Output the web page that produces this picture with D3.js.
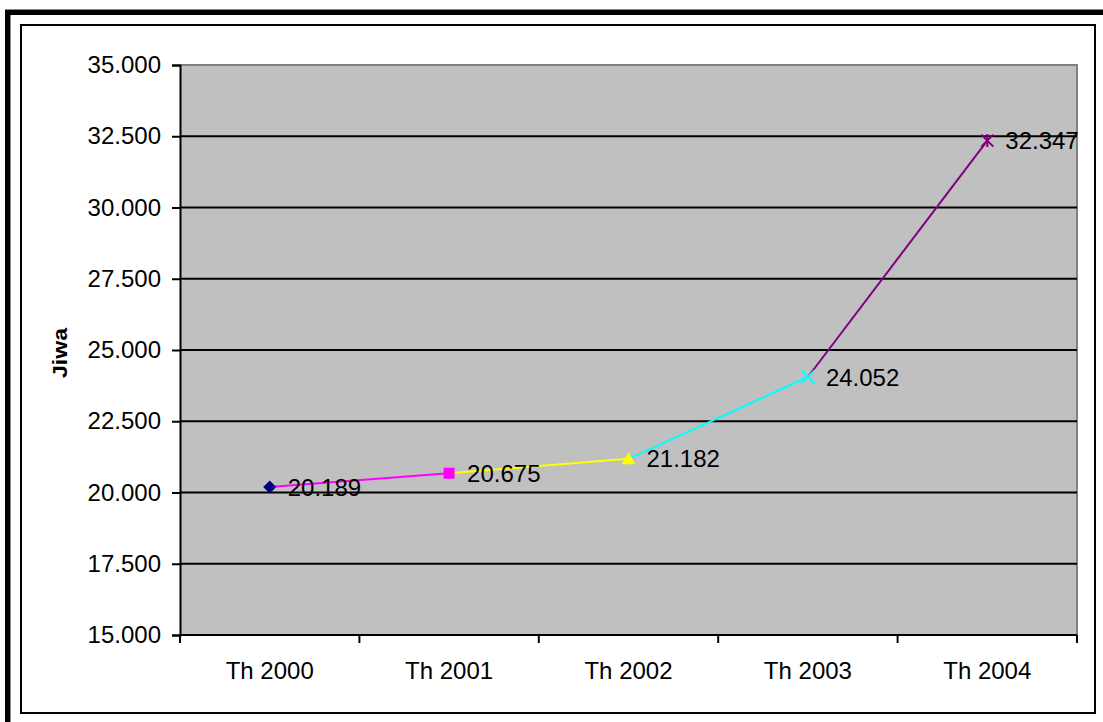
<!DOCTYPE html>
<html>
<head>
<meta charset="utf-8">
<script src="https://cdn.jsdelivr.net/npm/d3@7"></script>
<style>
  html, body { margin: 0; padding: 0; background: #ffffff; }
  svg { display: block; }
  text { font-family: Arial, "Liberation Sans", sans-serif; fill: #000; }
</style>
</head>
<body>
<svg id="chart" width="1103" height="722"></svg>
<script>
// Population (Jiwa) per year
const categories = ["Th 2000", "Th 2001", "Th 2002", "Th 2003", "Th 2004"];
const values = [20189, 20675, 21182, 24052, 32347];
const valueLabels = ["20.189", "20.675", "21.182", "24.052", "32.347"];
const yTicks = [15000, 17500, 20000, 22500, 25000, 27500, 30000, 32500, 35000];
const yTickLabels = ["15.000", "17.500", "20.000", "22.500", "25.000", "27.500", "30.000", "32.500", "35.000"];
const pointColors = ["#000080", "#FF00FF", "#FFFF00", "#00FFFF", "#800080"];
const pointShapes = ["diamond", "square", "triangle", "x", "star"];

const svg = d3.select("#chart");
const W = 1103, H = 722;
const plot = { left: 180, top: 65, right: 1077, bottom: 635 };

// outer heavy frame (runs off the right and bottom edges)
svg.append("line").attr("x1", 5).attr("x2", W + 10).attr("y1", 9.5).attr("y2", 9.5)
  .attr("stroke", "#888").attr("stroke-width", 1);
svg.append("rect").attr("x", 7.5).attr("y", 12.5).attr("width", W + 20).attr("height", H + 20)
  .attr("fill", "none").attr("stroke", "#000").attr("stroke-width", 5);
svg.append("line").attr("x1", 10.5).attr("x2", 10.5).attr("y1", 15).attr("y2", H)
  .attr("stroke", "#888").attr("stroke-width", 1);

// chart area frame
svg.append("rect").attr("x", 21).attr("y", 25).attr("width", 1074).attr("height", 688)
  .attr("fill", "#fff").attr("stroke", "#000").attr("stroke-width", 2);

const x = d3.scaleBand().domain(categories).range([plot.left, plot.right]).padding(0);
const y = d3.scaleLinear().domain([15000, 35000]).range([plot.bottom, plot.top]);

// plot background
svg.append("rect").attr("x", plot.left).attr("y", plot.top)
  .attr("width", plot.right - plot.left).attr("height", plot.bottom - plot.top)
  .attr("fill", "#C0C0C0");
// plot border top/right
svg.append("path")
  .attr("d", `M${plot.left},${plot.top}H${plot.right}V${plot.bottom}`)
  .attr("fill", "none").attr("stroke", "#808080").attr("stroke-width", 2);

// gridlines
svg.append("g").selectAll("line").data(yTicks.filter(v => v > 15000 && v < 35000)).join("line")
  .attr("x1", plot.left).attr("x2", plot.right)
  .attr("y1", d => y(d)).attr("y2", d => y(d))
  .attr("stroke", "#000").attr("stroke-width", 2);

// y axis
const yAxis = d3.axisLeft(y).tickValues(yTicks)
  .tickFormat((d, i) => yTickLabels[i]).tickSize(8).tickPadding(11);
const gy = svg.append("g").attr("transform", `translate(${plot.left},0)`).call(yAxis);
gy.select(".domain").attr("stroke", "#000").attr("stroke-width", 2);
gy.selectAll(".tick line").attr("stroke", "#000").attr("stroke-width", 2);
gy.selectAll(".tick text").attr("font-size", 24).attr("font-family", "Arial, 'Liberation Sans', sans-serif");

// x axis with ticks at category boundaries
const gx = svg.append("g").attr("transform", `translate(0,${plot.bottom})`);
gx.append("line").attr("x1", plot.left).attr("x2", plot.right).attr("y1", 0).attr("y2", 0)
  .attr("stroke", "#000").attr("stroke-width", 2);
const bounds = categories.map(c => x(c)).concat([x(categories[categories.length - 1]) + x.bandwidth()]);
gx.selectAll("line.tk").data(bounds).join("line").attr("class", "tk")
  .attr("x1", d => d).attr("x2", d => d).attr("y1", 0).attr("y2", 8)
  .attr("stroke", "#000").attr("stroke-width", 2);
gx.selectAll("text").data(categories).join("text")
  .attr("x", d => x(d) + x.bandwidth() / 2).attr("y", 44)
  .attr("text-anchor", "middle").attr("font-size", 24).text(d => d);

// y axis title
svg.append("text")
  .attr("transform", `translate(67,353) rotate(-90)`)
  .attr("text-anchor", "middle").attr("font-size", 20).attr("font-weight", "bold")
  .attr("textLength", 50).attr("lengthAdjust", "spacingAndGlyphs")
  .text("Jiwa");

// line segments, each coloured after the point it leads to
const px = i => x(categories[i]) + x.bandwidth() / 2;
const py = i => y(values[i]);
const segs = d3.range(1, values.length);
svg.append("g").selectAll("line").data(segs).join("line")
  .attr("x1", i => px(i - 1)).attr("y1", i => py(i - 1))
  .attr("x2", i => px(i)).attr("y2", i => py(i))
  .attr("stroke", i => pointColors[i]).attr("stroke-width", 2);

// markers
const mg = svg.append("g");
values.forEach((v, i) => {
  const cx = px(i), cy = py(i), c = pointColors[i];
  const g = mg.append("g").attr("transform", `translate(${cx},${cy})`);
  switch (pointShapes[i]) {
    case "diamond":
      g.append("path").attr("d", "M0,-6.5L6.5,0L0,6.5L-6.5,0Z").attr("fill", c);
      break;
    case "square":
      g.append("rect").attr("x", -5.5).attr("y", -5.5).attr("width", 11).attr("height", 11).attr("fill", c);
      break;
    case "triangle":
      g.append("path").attr("d", "M0,-6.5L7,5.5L-7,5.5Z").attr("fill", c);
      break;
    case "x":
      g.append("path").attr("d", "M-6.5,-6.5L6.5,6.5M-6.5,6.5L6.5,-6.5").attr("stroke", c).attr("stroke-width", 2);
      break;
    case "star":
      g.append("path").attr("d", "M-6,-6L6,6M-6,6L6,-6M0,-6.5V6.5").attr("stroke", c).attr("stroke-width", 2);
      break;
  }
});

// value labels
svg.append("g").selectAll("text").data(values).join("text")
  .attr("x", (d, i) => px(i) + 18).attr("y", (d, i) => py(i))
  .attr("dy", "0.36em").attr("font-size", 24)
  .text((d, i) => valueLabels[i]);
</script>
</body>
</html>
